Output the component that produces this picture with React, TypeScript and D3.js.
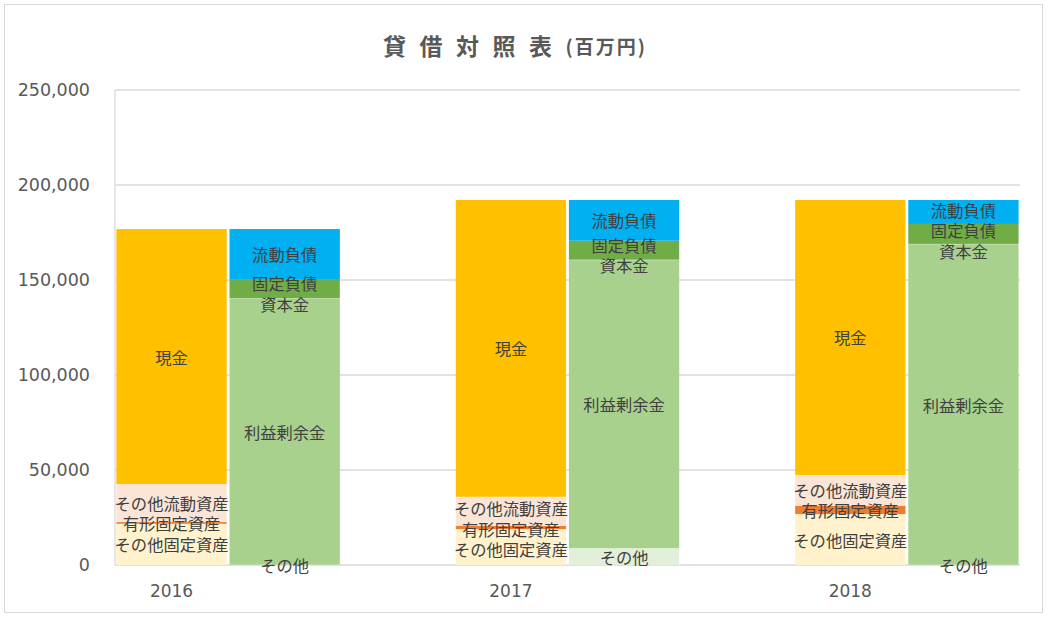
import React from "react";
import * as d3 from "d3";

const years = ["2016", "2017", "2018"];
const yTicks = [0, 50000, 100000, 150000, 200000, 250000];

// Assets (bottom to top)
const otherFixedAssets = [21700, 18900, 26800];
const tangibleFixedAssets = [900, 1700, 4400];
const otherCurrentAssets = [20000, 15300, 16200];
const cash = [134200, 156200, 144700];

// Liabilities & equity (bottom to top)
const otherEquity = [200, 8900, 200];
const retainedEarnings = [140000, 151500, 168500];
const capitalStock = [300, 300, 300];
const fixedLiabilities = [10000, 10000, 10500];
const currentLiabilities = [26300, 21400, 12600];

const assetSeries = [
  { name: "その他固定資産", values: otherFixedAssets, color: "#FFF2CC" },
  { name: "有形固定資産", values: tangibleFixedAssets, color: "#ED7D31" },
  { name: "その他流動資産", values: otherCurrentAssets, color: "#FBE5D6" },
  { name: "現金", values: cash, color: "#FFC000" },
];
const liabSeries = [
  { name: "その他", values: otherEquity, color: "#E2F0D9" },
  { name: "利益剰余金", values: retainedEarnings, color: "#A9D18E" },
  { name: "資本金", values: capitalStock, color: "#A9D18E" },
  { name: "固定負債", values: fixedLiabilities, color: "#70AD47" },
  { name: "流動負債", values: currentLiabilities, color: "#00B0F0" },
];

const W = 1047;
const H = 618;
const plotL = 115;
const plotR = 1020;
const plotT = 90;
const plotB = 565;

const x = d3
  .scaleBand<number>()
  .domain(d3.range(8))
  .range([plotL, plotR])
  .paddingInner(0.025)
  .paddingOuter(0.0125);
const y = d3.scaleLinear().domain([0, 250000]).range([plotB, plotT]);
const fmt = d3.format(",");

const JP = "'Noto Sans CJK JP', 'DejaVu Sans', sans-serif";
const NUM = "'DejaVu Sans', sans-serif";

type Seg = { name: string; color: string; y0: number; y1: number };

function buildSegs(series: typeof assetSeries, i: number): Seg[] {
  const stack = d3
    .stack<any, number, string>()
    .keys(series.map((s) => s.name))
    .value((_d, key) => series.find((s) => s.name === key)!.values[i]);
  const st = stack([{}]);
  return st.map((layer, k) => ({
    name: series[k].name,
    color: series[k].color,
    y0: layer[0][0],
    y1: layer[0][1],
  }));
}

function labelPositions(segs: Seg[], gap: number): number[] {
  const idx = segs.map((_, k) => k).reverse();
  const pos = idx.map((k) => (y(segs[k].y0) + y(segs[k].y1)) / 2);
  for (let it = 0; it < 40; it++) {
    for (let j = 1; j < pos.length; j++) {
      const diff = pos[j] - pos[j - 1];
      if (diff < gap) {
        const s = (gap - diff) / 2;
        pos[j - 1] -= s;
        pos[j] += s;
      }
    }
  }
  const out: number[] = new Array(segs.length);
  idx.forEach((k, j) => (out[k] = pos[j]));
  return out;
}

function Bar({ slot, segs }: { slot: number; segs: Seg[] }) {
  const x0 = x(slot)!;
  const bw = x.bandwidth();
  const ly = labelPositions(segs, 20.5);
  return (
    <g>
      {segs.map((s) => (
        <rect
          key={s.name}
          x={x0}
          width={bw}
          y={y(s.y1)}
          height={Math.max(0, y(s.y0) - y(s.y1))}
          fill={s.color}
        />
      ))}
      {segs.map((s, k) => (
        <text
          key={s.name + "-l"}
          x={x0 + bw / 2}
          y={ly[k]}
          textAnchor="middle"
          dominantBaseline="central"
          fontFamily={JP}
          fontSize={16.3}
          fill="#404040"
        >
          {s.name}
        </text>
      ))}
    </g>
  );
}

export default function App() {
  return (
    <svg
      width={W}
      height={H}
      style={{ position: "absolute", left: 0, top: 0, background: "#fff" }}
    >
      <rect x={0} y={0} width={W} height={H} fill="#fff" />
      <rect x={4.5} y={4.5} width={1038} height={608} fill="none" stroke="#D9D9D9" strokeWidth={1} />
      {/* title */}
      <text x={383} y={45} dominantBaseline="central" fill="#595959" fontFamily={JP} fontWeight="bold">
        <tspan fontSize={23} letterSpacing={13.5}>貸借対照表</tspan>
        <tspan fontSize={19} letterSpacing={2}>(百万円)</tspan>
      </text>
      {/* gridlines */}
      {yTicks.map((t) => (
        <line key={t} x1={plotL} x2={plotR} y1={y(t)} y2={y(t)} stroke="#D9D9D9" strokeWidth={1.3} />
      ))}
      <line x1={plotL} x2={plotL} y1={plotT} y2={plotB} stroke="#D9D9D9" strokeWidth={1.3} />
      {/* y tick labels */}
      {yTicks.map((t) => (
        <text
          key={"l" + t}
          x={90}
          y={y(t)}
          textAnchor="end"
          dominantBaseline="central"
          fontFamily={NUM}
          fontSize={17.5}
          fill="#595959"
        >
          {fmt(t)}
        </text>
      ))}
      {/* bars */}
      {years.map((yr, i) => (
        <g key={yr}>
          <Bar slot={i * 3} segs={buildSegs(assetSeries, i)} />
          <Bar slot={i * 3 + 1} segs={buildSegs(liabSeries as any, i)} />
        </g>
      ))}
      {/* x labels */}
      {years.map((yr, i) => (
        <text
          key={"x" + yr}
          x={x(i * 3)! + x.bandwidth() / 2}
          y={591}
          textAnchor="middle"
          dominantBaseline="central"
          fontFamily={NUM}
          fontSize={17}
          fill="#595959"
        >
          {yr}
        </text>
      ))}
    </svg>
  );
}
